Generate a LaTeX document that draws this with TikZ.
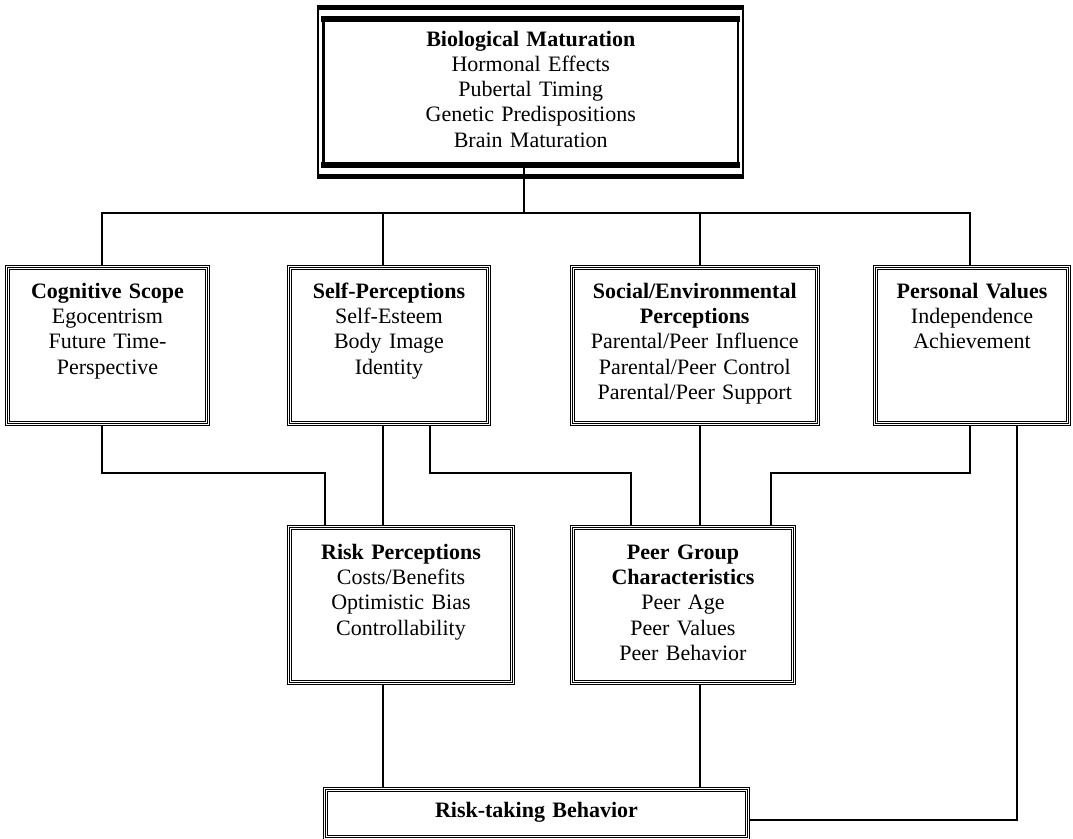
\documentclass[tikz,border=0pt]{standalone}
\usepackage{fontspec}
\setmainfont{Liberation Serif}
\usetikzlibrary{backgrounds}

\tikzset{
  boxtext/.style={
    inner sep=0pt,
    align=center,
    anchor=north,
    font=\fontsize{11}{12.6}\selectfont
  },
  factorbox/.style={
    boxtext,
    draw,
    fill=white,
    line width=2.5pt,
    postaction={draw=white, line width=1.5pt},
    postaction={draw=black, line width=0.5pt}
  },
  midrow/.style={factorbox, text height=15.25pt, text depth=62.75pt},
  lowrow/.style={factorbox, text height=15.75pt, text depth=61.75pt},
  thickedge/.style={line width=2.75pt, shorten <=-0.6pt, shorten >=-0.6pt},
  link/.style={line width=0.6pt}
}

\begin{document}
\begin{tikzpicture}[x=0.5pt, y=-0.5pt]
\useasboundingbox (0,0) rectangle (1073,839);

% top box
\node[boxtext, draw, fill=white, line width=1.25pt, text width=207.25pt,
  text height=13pt, text depth=58.75pt] (bio) at (530.75,19)
  {\textbf{Biological Maturation}\\Hormonal Effects\\Pubertal Timing\\Genetic Predispositions\\Brain Maturation};
\draw[line width=1pt] ([shift={(-2.25pt,5.75pt)}]bio.north west) coordinate (bioNW)
  rectangle ([shift={(2pt,-5.75pt)}]bio.south east) coordinate (bioSE);
\draw[thickedge] (bioNW) -- (bioNW -| bioSE);
\draw[thickedge] (bioSE -| bioNW) -- (bioSE);
\draw[thickedge] (bio.north west) -- (bio.north east);
\draw[thickedge] (bio.south west) -- (bio.south east);

% middle row
\node[midrow, text width=100pt] (cog) at (107.5,265.5)
  {\textbf{Cognitive Scope}\\Egocentrism\\Future Time-\\Perspective};
\node[midrow, text width=99.5pt] (self) at (389,265.5)
  {\textbf{Self-Perceptions}\\Self-Esteem\\Body Image\\Identity};
\node[midrow, text width=122.75pt] (social) at (694.75,265.5)
  {\textbf{Social/Environmental}\\\textbf{Perceptions}\\Parental/Peer Influence\\Parental/Peer Control\\Parental/Peer Support};
\node[midrow, text width=96.5pt] (pers) at (972,265.5)
  {\textbf{Personal Values}\\Independence\\Achievement};

% lower row
\node[lowrow, text width=111.5pt] (risk) at (401,525.5)
  {\textbf{Risk Perceptions}\\Costs/Benefits\\Optimistic Bias\\Controllability};
\node[lowrow, text width=110.5pt] (peer) at (683,525.5)
  {\textbf{Peer Group}\\\textbf{Characteristics}\\Peer Age\\Peer Values\\Peer Behavior};

% outcome
\node[factorbox, text width=211pt, text height=13.75pt, text depth=10.25pt] (act) at (536.5,787.5)
  {\textbf{Risk-taking Behavior}};

% bends of the connectors
\coordinate (t1) at (524,213);
\coordinate (b1) at (102,473);
\coordinate (b2) at (325,473);
\coordinate (s1) at (383,473);
\coordinate (b3) at (430,473);
\coordinate (b4) at (631,473);
\coordinate (s2) at (700,473);
\coordinate (b6) at (771,473);
\coordinate (b5) at (970,473);
\coordinate (b7) at (1017,820);

\begin{pgfonlayer}{background}
\draw[link] (bio.south -| t1) -- (t1);
\draw[link] (cog.north -| b1) |- (t1) -| (pers.north -| b5);
\draw[link] (self.north -| s1) -- (t1 -| s1);
\draw[link] (social.north -| s2) -- (t1 -| s2);

\draw[link] (cog.south -| b1) -- (b1) -- (b2) -- (risk.north -| b2);
\draw[link] (self.south -| s1) -- (risk.north -| s1);
\draw[link] (self.south -| b3) -- (b3) -- (b4) -- (peer.north -| b4);
\draw[link] (social.south -| s2) -- (peer.north -| s2);
\draw[link] (pers.south -| b5) -- (b5) -- (b6) -- (peer.north -| b6);
\draw[link] (pers.south -| b7) -- (b7) -- (act.east |- b7);

\draw[link] (risk.south -| s1) -- (act.north -| s1);
\draw[link] (peer.south -| s2) -- (act.north -| s2);
\end{pgfonlayer}
\end{tikzpicture}
\end{document}
